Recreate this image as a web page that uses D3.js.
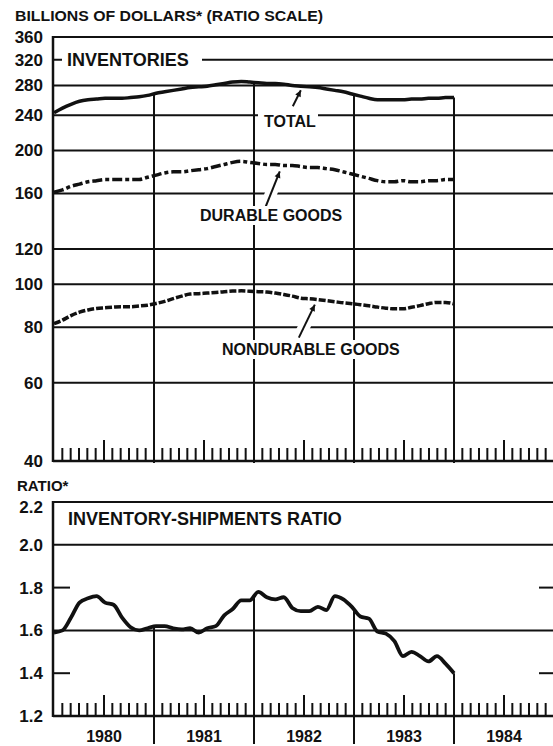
<!DOCTYPE html>
<html>
<head>
<meta charset="utf-8">
<script src="https://cdn.jsdelivr.net/npm/d3@7"></script>
<style>
  body { margin: 0; background: #fff; }
  text { font-family: 'Liberation Sans', Arial, sans-serif; font-weight: bold; fill: #111; }
</style>
</head>
<body>
<div id="chart"></div>
<script>
// monthly values, Jan 1980 - Dec 1983
const totalInv = [243, 249, 254, 258, 260, 261, 262, 262, 262, 263, 264, 266,
  269, 271, 273, 275, 277, 278, 279, 281, 283, 285, 286, 285,
  284, 283, 283, 282, 280, 279, 278, 277, 275, 273, 271, 268,
  265, 262, 260, 260, 260, 260, 261, 261, 262, 262, 263, 263];
const durableInv = [161, 163, 166, 168, 170, 171, 172, 172, 172, 172, 172, 174,
  176, 178, 179, 179, 180, 181, 182, 184, 186, 188, 189, 188,
  187, 186, 186, 185, 185, 184, 183, 183, 182, 181, 179, 177,
  175, 173, 171, 170, 170, 171, 170, 170, 171, 171, 172, 172];
const nondurableInv = [81.5, 83, 85, 86.5, 87.5, 88.2, 88.5, 88.8, 89, 89, 89.3, 89.7,
  90.5, 91.5, 92.8, 94, 95, 95.2, 95.5, 95.8, 96.2, 96.5, 96.6, 96.4,
  96.2, 96, 95.5, 94.8, 94, 93, 92.7, 92.3, 91.8, 91.3, 90.8, 90.4,
  89.9, 89.4, 88.8, 88.3, 88, 88, 88.7, 89.5, 90.4, 91, 91, 90.3];
const isRatio = [1.59, 1.60, 1.66, 1.73, 1.75, 1.76, 1.73, 1.72, 1.66, 1.615, 1.60, 1.61,
  1.62, 1.62, 1.61, 1.605, 1.61, 1.59, 1.61, 1.62, 1.67, 1.70, 1.74, 1.74,
  1.78, 1.755, 1.745, 1.755, 1.705, 1.69, 1.69, 1.71, 1.695, 1.76, 1.745, 1.71,
  1.665, 1.655, 1.595, 1.585, 1.55, 1.48, 1.50, 1.48, 1.455, 1.48, 1.445, 1.40];

const years = ['1980', '1981', '1982', '1983', '1984'];
const invTicks = [40, 60, 80, 100, 120, 160, 200, 240, 280, 320, 360];
const invGrid = [60, 80, 100, 120, 160, 200, 240, 280, 320, 360];
const ratioTicks = [1.2, 1.4, 1.6, 1.8, 2.0, 2.2];
const ratioGrid = [1.6, 2.0, 2.2];
const ratioMinor = [1.4, 1.8];

const W = 553, H = 746;
const left = 53, right = 553;

const svg = d3.select('#chart').append('svg').attr('width', W).attr('height', H);

// calendar months 0..60 and data points (one per month)
const xCal = d3.scaleLinear().domain([0, 60]).range([54, 554]);
const xPt = d3.scalePoint().domain(d3.range(48)).range([xCal(0), xCal(48)]);
const yInv = d3.scaleLog().domain([40, 360]).range([461, 37]);
const yRat = d3.scaleLinear().domain([1.2, 2.2]).range([716, 502]);

function valueAtMonth(series, m, log) {
  const pos = (m / 48) * (series.length - 1);
  const i0 = Math.floor(pos), i1 = Math.min(i0 + 1, series.length - 1);
  const t = pos - i0;
  if (log) return Math.exp(Math.log(series[i0]) * (1 - t) + Math.log(series[i1]) * t);
  return series[i0] * (1 - t) + series[i1] * t;
}

function hline(g, y, x1, x2, w) {
  g.append('line').attr('x1', x1).attr('x2', x2).attr('y1', y).attr('y2', y)
    .attr('stroke', '#111').attr('stroke-width', w || 2);
}

function whiteBox(g, x, y, w, h) {
  g.append('rect').attr('x', x).attr('y', y).attr('width', w).attr('height', h).attr('fill', '#fff');
}

// ---------- header texts
svg.append('text').attr('x', 15).attr('y', 21).attr('font-size', 14.5)
  .attr('textLength', 308).attr('lengthAdjust', 'spacingAndGlyphs')
  .text('BILLIONS OF DOLLARS* (RATIO SCALE)');
svg.append('text').attr('x', 17).attr('y', 491).attr('font-size', 15)
  .text('RATIO*');

// ---------- top panel
const topG = svg.append('g');
invGrid.forEach((v) => hline(topG, yInv(v), left, right, 2));
hline(topG, yInv(40), left, right, 2.5);
topG.append('line').attr('x1', left).attr('x2', left).attr('y1', yInv(360) - 1).attr('y2', yInv(40) + 1)
  .attr('stroke', '#111').attr('stroke-width', 2.5);

topG.selectAll('text.tick').data(invTicks).join('text').attr('class', 'tick')
  .attr('x', 43).attr('y', (d) => yInv(d) + 6).attr('text-anchor', 'end')
  .attr('font-size', 17).text((d) => d);

// month ticks
const months = d3.range(1, 60).filter((m) => m % 12 !== 0);
function monthTicks(g, yBase) {
  g.selectAll('line.mt').data(months).join('line').attr('class', 'mt')
    .attr('x1', (m) => xCal(m)).attr('x2', (m) => xCal(m))
    .attr('y1', yBase).attr('y2', (m) => yBase - (m % 12 === 6 ? 21 : 13))
    .attr('stroke', '#111').attr('stroke-width', 2);
}
monthTicks(topG, yInv(40));

// year dividers from the total line down
[12, 24, 36, 48].forEach((m) => {
  topG.append('line').attr('x1', xCal(m)).attr('x2', xCal(m))
    .attr('y1', yInv(valueAtMonth(totalInv, m, true))).attr('y2', yInv(40) + 2)
    .attr('stroke', '#111').attr('stroke-width', 2);
});

// label INVENTORIES
whiteBox(topG, 62, 49, 140, 20);
topG.append('text').attr('x', 67).attr('y', 66).attr('font-size', 18).text('INVENTORIES');

// label TOTAL
whiteBox(topG, 258, 109, 60, 20);
topG.append('text').attr('x', 264).attr('y', 127).attr('font-size', 16).text('TOTAL');

// arrows
function arrow(g, tip, tail) {
  g.append('line').attr('x1', tail[0]).attr('y1', tail[1]).attr('x2', tip[0]).attr('y2', tip[1])
    .attr('stroke', '#fff').attr('stroke-width', 12);
  g.append('line').attr('x1', tail[0]).attr('y1', tail[1]).attr('x2', tip[0]).attr('y2', tip[1])
    .attr('stroke', '#111').attr('stroke-width', 2);
  const a = Math.atan2(tip[1] - tail[1], tip[0] - tail[0]);
  const L = 7, s = 0.45;
  const p1 = [tip[0] - L * Math.cos(a - s), tip[1] - L * Math.sin(a - s)];
  const p2 = [tip[0] - L * Math.cos(a + s), tip[1] - L * Math.sin(a + s)];
  g.append('path').attr('d', `M${tip[0]},${tip[1]}L${p1[0]},${p1[1]}L${p2[0]},${p2[1]}Z`).attr('fill', '#111');
}
const tTip = [xPt(29), yInv(totalInv[29]) + 4];
arrow(topG, tTip, [tTip[0] - 8, tTip[1] + 16]);
const dTip = [xPt(27) - 4, yInv(durableInv[27]) + 6];
arrow(topG, dTip, [dTip[0] - 16, dTip[1] + 40]);
const nTip = [xPt(31) - 3, yInv(nondurableInv[31]) + 5];
arrow(topG, nTip, [nTip[0] - 16, nTip[1] + 33]);

whiteBox(topG, 197, 206, 148, 19);
topG.append('text').attr('x', 200).attr('y', 221).attr('font-size', 16).text('DURABLE GOODS');
whiteBox(topG, 219, 340, 186, 19);
topG.append('text').attr('x', 222).attr('y', 355).attr('font-size', 16).text('NONDURABLE GOODS');

// series lines
const lineInv = (series) => d3.line().x((d, i) => xPt(i)).y((d) => yInv(d)).curve(d3.curveMonotoneX)(series);
topG.append('path').attr('d', lineInv(totalInv)).attr('fill', 'none')
  .attr('stroke', '#111').attr('stroke-width', 3.5).attr('stroke-linejoin', 'round');
topG.append('path').attr('d', lineInv(durableInv)).attr('fill', 'none')
  .attr('stroke', '#111').attr('stroke-width', 3.5).attr('stroke-dasharray', '10,3,4,3');
topG.append('path').attr('d', lineInv(nondurableInv)).attr('fill', 'none')
  .attr('stroke', '#111').attr('stroke-width', 3.5).attr('stroke-dasharray', '7,2');

// ---------- bottom panel
const botG = svg.append('g');
ratioGrid.forEach((v) => hline(botG, yRat(v), left, right, 2));
ratioMinor.forEach((v) => {
  hline(botG, yRat(v), left, left + 17, 2);
  hline(botG, yRat(v), right - 14, right, 2);
});
hline(botG, yRat(1.2), left, right, 2.5);
botG.append('line').attr('x1', left).attr('x2', left).attr('y1', yRat(2.2) - 1).attr('y2', yRat(1.2) + 1)
  .attr('stroke', '#111').attr('stroke-width', 2.5);

// the top label sits a little below the frame line, as in the original
botG.selectAll('text.tick').data(ratioTicks).join('text').attr('class', 'tick')
  .attr('x', 43).attr('y', (d) => yRat(d) + (d === 2.2 ? 11 : 6)).attr('text-anchor', 'end')
  .attr('font-size', 17).text((d) => d.toFixed(1));

monthTicks(botG, yRat(1.2));

[12, 24, 36, 48].forEach((m) => {
  botG.append('line').attr('x1', xCal(m)).attr('x2', xCal(m))
    .attr('y1', yRat(valueAtMonth(isRatio, m, false))).attr('y2', 744)
    .attr('stroke', '#111').attr('stroke-width', 2);
});

botG.append('text').attr('x', 68).attr('y', 525).attr('font-size', 18).text('INVENTORY-SHIPMENTS RATIO');

botG.append('path')
  .attr('d', d3.line().x((d, i) => xPt(i)).y((d) => yRat(d)).curve(d3.curveMonotoneX)(isRatio))
  .attr('fill', 'none').attr('stroke', '#111').attr('stroke-width', 3.8).attr('stroke-linejoin', 'round');

botG.selectAll('text.year').data(years).join('text').attr('class', 'year')
  .attr('x', (d, i) => xCal(i * 12 + 6)).attr('y', 742).attr('text-anchor', 'middle')
  .attr('font-size', 16).text((d) => d);
</script>
</body>
</html>
